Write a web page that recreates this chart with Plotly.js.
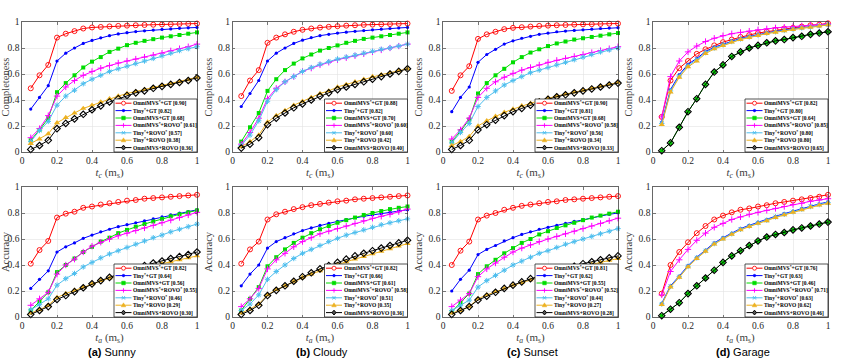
<!DOCTYPE html>
<html><head><meta charset="utf-8">
<script src="https://cdn.plot.ly/plotly-3.0.1.min.js"></script>
<style>html,body{margin:0;padding:0;background:#fff}#chart{width:841px;height:360px}</style>
</head><body><div id="chart"></div><script>
// ---------------- data ----------------
const tValues = [0.05,0.10,0.15,0.20,0.25,0.30,0.35,0.40,0.45,0.50,0.55,0.60,0.65,0.70,0.75,0.80,0.85,0.90,0.95,1.00];

const seriesNames = ['OmniMVS<sup>*</sup>+GT','Tiny<sup>*</sup>+GT','OmniMVS+GT','OmniMVS<sup>*</sup>+ROVO<sup>*</sup>','Tiny<sup>*</sup>+ROVO<sup>*</sup>','Tiny<sup>*</sup>+ROVO','OmniMVS+ROVO'];
const sceneLabels = ['(a)','(b)','(c)','(d)'];
const sceneNames = ['Sunny','Cloudy','Sunset','Garage'];
const rowYTitles = ['Completeness','Accuracy'];
const rowXTitles = ['<i>t</i><sub><i>c</i></sub> (m<sub>s</sub>)','<i>t</i><sub><i>a</i></sub> (m<sub>s</sub>)'];
const tickVals = [0,0.2,0.4,0.6,0.8,1];
const tickText = ['0','0.2','0.4','0.6','0.8','1'];

// Completeness
const compSunny = [
 [0.49,0.59,0.67,0.88,0.91,0.93,0.95,0.958,0.962,0.966,0.970,0.972,0.975,0.977,0.979,0.981,0.983,0.985,0.986,0.988],
 [0.33,0.42,0.51,0.70,0.76,0.80,0.835,0.858,0.878,0.895,0.908,0.918,0.926,0.932,0.938,0.943,0.947,0.951,0.955,0.958],
 [0.09,0.17,0.26,0.46,0.53,0.59,0.65,0.695,0.73,0.77,0.795,0.822,0.84,0.855,0.868,0.88,0.89,0.90,0.91,0.92],
 [0.11,0.18,0.28,0.43,0.50,0.55,0.59,0.62,0.645,0.665,0.685,0.70,0.715,0.73,0.745,0.76,0.778,0.795,0.81,0.83],
 [0.08,0.165,0.235,0.36,0.43,0.475,0.525,0.56,0.59,0.62,0.64,0.66,0.68,0.70,0.72,0.74,0.76,0.78,0.795,0.81],
 [0.065,0.10,0.14,0.225,0.265,0.30,0.335,0.36,0.385,0.41,0.43,0.45,0.465,0.48,0.495,0.51,0.525,0.54,0.555,0.575],
 [0.02,0.05,0.09,0.18,0.22,0.255,0.29,0.325,0.355,0.385,0.41,0.435,0.455,0.47,0.49,0.505,0.52,0.535,0.55,0.57]
];
const compSunnyScores = [0.90,0.82,0.68,0.61,0.57,0.38,0.36];

const compCloudy = [
 [0.43,0.55,0.63,0.84,0.88,0.905,0.925,0.94,0.95,0.957,0.963,0.968,0.972,0.975,0.978,0.98,0.982,0.984,0.986,0.988],
 [0.35,0.45,0.55,0.70,0.76,0.80,0.835,0.86,0.88,0.895,0.905,0.915,0.922,0.928,0.934,0.94,0.945,0.95,0.954,0.958],
 [0.08,0.19,0.30,0.47,0.56,0.63,0.68,0.72,0.75,0.78,0.80,0.82,0.84,0.855,0.87,0.88,0.89,0.90,0.91,0.92],
 [0.06,0.15,0.26,0.41,0.49,0.54,0.58,0.62,0.645,0.67,0.69,0.71,0.725,0.74,0.755,0.77,0.785,0.80,0.815,0.83],
 [0.05,0.13,0.24,0.39,0.48,0.54,0.58,0.62,0.65,0.675,0.695,0.715,0.73,0.745,0.76,0.775,0.79,0.80,0.815,0.83],
 [0.04,0.08,0.13,0.23,0.28,0.32,0.36,0.39,0.42,0.45,0.47,0.50,0.52,0.54,0.56,0.58,0.595,0.61,0.625,0.64],
 [0.03,0.06,0.11,0.21,0.26,0.30,0.34,0.37,0.40,0.43,0.455,0.48,0.50,0.52,0.54,0.56,0.58,0.60,0.62,0.64]
];
const compCloudyScores = [0.88,0.82,0.70,0.60,0.60,0.42,0.40];

const compSunset = [
 [0.47,0.59,0.66,0.87,0.905,0.925,0.945,0.955,0.96,0.965,0.97,0.972,0.975,0.977,0.98,0.982,0.983,0.985,0.987,0.988],
 [0.31,0.42,0.50,0.69,0.75,0.79,0.83,0.855,0.875,0.89,0.905,0.915,0.925,0.93,0.935,0.94,0.945,0.95,0.953,0.956],
 [0.08,0.16,0.25,0.45,0.53,0.59,0.64,0.69,0.73,0.765,0.79,0.815,0.835,0.85,0.865,0.875,0.885,0.895,0.905,0.915],
 [0.10,0.17,0.26,0.42,0.49,0.54,0.575,0.605,0.63,0.65,0.67,0.69,0.705,0.72,0.735,0.75,0.765,0.78,0.795,0.81],
 [0.07,0.15,0.22,0.35,0.42,0.47,0.515,0.55,0.58,0.61,0.63,0.65,0.67,0.69,0.71,0.73,0.75,0.77,0.785,0.80],
 [0.05,0.08,0.12,0.20,0.24,0.275,0.305,0.33,0.355,0.375,0.395,0.415,0.43,0.445,0.46,0.475,0.49,0.505,0.52,0.535],
 [0.02,0.05,0.09,0.17,0.21,0.245,0.28,0.31,0.335,0.36,0.385,0.405,0.425,0.44,0.455,0.47,0.485,0.50,0.515,0.53]
];
const compSunsetScores = [0.90,0.81,0.68,0.58,0.56,0.34,0.33];

const compGarage = [
 [0.27,0.55,0.645,0.70,0.755,0.79,0.82,0.845,0.865,0.885,0.90,0.915,0.925,0.94,0.95,0.955,0.965,0.975,0.98,0.99],
 [0.23,0.48,0.595,0.675,0.72,0.772,0.806,0.83,0.855,0.874,0.889,0.903,0.918,0.928,0.938,0.948,0.957,0.962,0.972,0.982],
 [0.01,0.07,0.19,0.31,0.41,0.52,0.615,0.67,0.735,0.77,0.80,0.82,0.84,0.855,0.865,0.88,0.89,0.905,0.915,0.925],
 [0.27,0.58,0.70,0.77,0.815,0.85,0.875,0.895,0.91,0.92,0.93,0.94,0.948,0.955,0.96,0.965,0.97,0.975,0.98,0.985],
 [0.22,0.47,0.585,0.665,0.71,0.765,0.80,0.825,0.85,0.87,0.885,0.90,0.915,0.925,0.935,0.945,0.955,0.96,0.97,0.98],
 [0.21,0.46,0.575,0.655,0.70,0.757,0.793,0.819,0.845,0.865,0.88,0.896,0.911,0.921,0.932,0.942,0.952,0.958,0.968,0.978],
 [0.01,0.07,0.19,0.31,0.41,0.52,0.615,0.67,0.735,0.77,0.80,0.82,0.84,0.855,0.865,0.88,0.89,0.905,0.915,0.925]
];
const compGarageScores = [0.82,0.80,0.64,0.85,0.80,0.80,0.65];

// Accuracy
const accSunny = [
 [0.41,0.515,0.585,0.765,0.795,0.81,0.84,0.85,0.865,0.875,0.885,0.895,0.90,0.91,0.915,0.92,0.925,0.93,0.935,0.94],
 [0.22,0.29,0.355,0.50,0.54,0.57,0.605,0.63,0.655,0.675,0.695,0.71,0.725,0.74,0.755,0.77,0.785,0.80,0.81,0.825],
 [0.05,0.12,0.19,0.345,0.40,0.45,0.50,0.54,0.58,0.61,0.645,0.67,0.695,0.715,0.735,0.755,0.775,0.79,0.805,0.82],
 [0.09,0.14,0.19,0.33,0.40,0.445,0.50,0.545,0.575,0.60,0.625,0.645,0.665,0.685,0.705,0.725,0.745,0.765,0.785,0.805],
 [0.055,0.095,0.14,0.245,0.295,0.335,0.385,0.42,0.455,0.485,0.51,0.535,0.56,0.585,0.61,0.63,0.655,0.675,0.695,0.715],
 [0.03,0.055,0.09,0.15,0.18,0.205,0.23,0.255,0.28,0.30,0.32,0.34,0.36,0.38,0.395,0.41,0.425,0.44,0.455,0.47],
 [0.02,0.05,0.08,0.135,0.165,0.195,0.225,0.255,0.28,0.305,0.33,0.355,0.375,0.395,0.415,0.43,0.45,0.465,0.48,0.50]
];
const accSunnyScores = [0.82,0.64,0.56,0.55,0.46,0.29,0.30];

const accCloudy = [
 [0.41,0.52,0.58,0.75,0.79,0.81,0.83,0.845,0.86,0.87,0.88,0.89,0.895,0.905,0.91,0.915,0.92,0.925,0.93,0.935],
 [0.24,0.33,0.40,0.53,0.58,0.61,0.64,0.665,0.685,0.705,0.72,0.735,0.75,0.765,0.775,0.785,0.795,0.805,0.815,0.825],
 [0.05,0.14,0.23,0.39,0.46,0.52,0.57,0.61,0.645,0.675,0.70,0.725,0.745,0.765,0.785,0.80,0.815,0.83,0.84,0.85],
 [0.08,0.14,0.22,0.37,0.44,0.49,0.54,0.58,0.61,0.64,0.66,0.68,0.70,0.72,0.74,0.76,0.775,0.79,0.81,0.83],
 [0.05,0.10,0.17,0.29,0.35,0.40,0.45,0.49,0.52,0.55,0.58,0.605,0.63,0.65,0.67,0.69,0.71,0.725,0.74,0.755],
 [0.03,0.06,0.10,0.17,0.21,0.24,0.275,0.305,0.33,0.355,0.38,0.405,0.425,0.445,0.465,0.485,0.505,0.525,0.545,0.565],
 [0.02,0.05,0.09,0.165,0.205,0.24,0.275,0.31,0.34,0.37,0.395,0.42,0.445,0.47,0.49,0.51,0.53,0.55,0.57,0.59]
];
const accCloudyScores = [0.82,0.66,0.61,0.58,0.51,0.35,0.36];

const accSunset = [
 [0.40,0.51,0.58,0.75,0.78,0.80,0.825,0.84,0.855,0.865,0.875,0.885,0.89,0.90,0.905,0.91,0.915,0.92,0.925,0.93],
 [0.20,0.29,0.36,0.48,0.52,0.55,0.585,0.61,0.635,0.655,0.675,0.69,0.705,0.72,0.735,0.75,0.765,0.78,0.79,0.80],
 [0.04,0.11,0.18,0.33,0.39,0.44,0.49,0.53,0.57,0.60,0.635,0.66,0.685,0.705,0.725,0.745,0.765,0.78,0.795,0.81],
 [0.08,0.13,0.18,0.31,0.37,0.415,0.46,0.50,0.53,0.555,0.58,0.60,0.62,0.64,0.66,0.68,0.70,0.72,0.74,0.76],
 [0.05,0.09,0.13,0.23,0.28,0.32,0.36,0.40,0.43,0.46,0.49,0.51,0.535,0.56,0.58,0.60,0.62,0.64,0.66,0.68],
 [0.03,0.05,0.08,0.14,0.17,0.195,0.22,0.245,0.265,0.285,0.305,0.325,0.345,0.36,0.375,0.39,0.405,0.42,0.435,0.45],
 [0.02,0.05,0.08,0.13,0.16,0.19,0.22,0.245,0.27,0.295,0.315,0.335,0.355,0.375,0.39,0.41,0.425,0.44,0.455,0.47]
];
const accSunsetScores = [0.81,0.62,0.55,0.52,0.44,0.27,0.28];

const accGarage = [
 [0.18,0.40,0.50,0.575,0.645,0.70,0.75,0.78,0.805,0.825,0.835,0.85,0.86,0.875,0.885,0.895,0.905,0.915,0.925,0.94],
 [0.105,0.24,0.315,0.395,0.46,0.515,0.57,0.61,0.645,0.68,0.705,0.73,0.75,0.775,0.795,0.815,0.835,0.855,0.87,0.885],
 [0.01,0.06,0.11,0.18,0.24,0.30,0.36,0.42,0.47,0.51,0.55,0.585,0.615,0.635,0.65,0.67,0.685,0.70,0.715,0.73],
 [0.17,0.35,0.44,0.52,0.59,0.645,0.69,0.72,0.75,0.77,0.79,0.805,0.82,0.835,0.85,0.865,0.875,0.89,0.90,0.91],
 [0.10,0.235,0.31,0.39,0.455,0.51,0.565,0.605,0.64,0.675,0.70,0.725,0.745,0.77,0.79,0.81,0.83,0.85,0.865,0.88],
 [0.095,0.23,0.305,0.385,0.45,0.505,0.56,0.60,0.635,0.67,0.695,0.72,0.74,0.765,0.785,0.805,0.825,0.845,0.86,0.875],
 [0.01,0.06,0.11,0.18,0.24,0.30,0.36,0.42,0.47,0.51,0.55,0.585,0.615,0.635,0.65,0.67,0.685,0.70,0.715,0.73]
];
const accGarageScores = [0.76,0.63,0.46,0.71,0.63,0.62,0.46];

// ---------------- styles ----------------
const W = 841, H = 360;
const colLeft = [22, 232.5, 443, 653];
const plotW = 175;
const rowTop = [22, 187];
const plotH = 130;
const serif = 'Liberation Serif, Times New Roman, serif';
const ink = '#262626';

const styles = [
 {color:'#ff0000', marker:{symbol:'circle-open', size:5, color:'#ff0000', line:{width:0.9, color:'#ff0000'}}, leg:'circle'},
 {color:'#0000ff', marker:{symbol:'circle', size:3.2, color:'#0000ff'}, leg:'dot'},
 {color:'#00dd00', marker:{symbol:'square', size:4, color:'#00dd00'}, leg:'square'},
 {color:'#ff00ff', marker:{symbol:'cross-thin-open', size:4.5, color:'#ff00ff', line:{width:1, color:'#ff00ff'}}, leg:'cross'},
 {color:'#4dbeee', marker:{symbol:'asterisk-open', size:4.5, color:'#4dbeee', line:{width:1, color:'#4dbeee'}}, leg:'asterisk'},
 {color:'#edb120', marker:{symbol:'triangle-up', size:5.5, color:'#edb120'}, leg:'triangle'},
 {color:'#000000', marker:{symbol:'diamond-open', size:5, color:'#000000', line:{width:1.1, color:'#000000'}}, leg:'diamond'}
];

const panels = [
 {data:compSunny, scores:compSunnyScores, r:0, c:0},
 {data:compCloudy, scores:compCloudyScores, r:0, c:1},
 {data:compSunset, scores:compSunsetScores, r:0, c:2},
 {data:compGarage, scores:compGarageScores, r:0, c:3},
 {data:accSunny, scores:accSunnyScores, r:1, c:0},
 {data:accCloudy, scores:accCloudyScores, r:1, c:1},
 {data:accSunset, scores:accSunsetScores, r:1, c:2},
 {data:accGarage, scores:accGarageScores, r:1, c:3}
];

const X = p => p / W;
const Y = p => 1 - p / H;
const P = (x, y) => X(x).toFixed(5) + ',' + Y(y).toFixed(5);

const traces = [];
const layout = {
 width: W, height: H,
 margin: {l:0, r:0, t:0, b:0},
 paper_bgcolor: '#ffffff', plot_bgcolor: '#ffffff',
 showlegend: false,
 shapes: [], annotations: []
};

function legendMarker(kind, cx, cy, color) {
 const s = [];
 const base = {xref:'paper', yref:'paper', layer:'above'};
 if (kind === 'circle') {
  s.push(Object.assign({type:'circle', x0:X(cx-2), x1:X(cx+2), y0:Y(cy+2), y1:Y(cy-2), line:{color:color, width:0.8}, fillcolor:'#ffffff'}, base));
 } else if (kind === 'dot') {
  s.push(Object.assign({type:'circle', x0:X(cx-1.3), x1:X(cx+1.3), y0:Y(cy+1.3), y1:Y(cy-1.3), line:{color:color, width:0.5}, fillcolor:color}, base));
 } else if (kind === 'square') {
  s.push(Object.assign({type:'rect', x0:X(cx-1.8), x1:X(cx+1.8), y0:Y(cy+1.8), y1:Y(cy-1.8), line:{color:color, width:0.5}, fillcolor:color}, base));
 } else if (kind === 'cross') {
  s.push(Object.assign({type:'path', path:'M'+P(cx-2.2,cy)+'L'+P(cx+2.2,cy)+'M'+P(cx,cy-2.2)+'L'+P(cx,cy+2.2), line:{color:color, width:0.9}}, base));
 } else if (kind === 'asterisk') {
  s.push(Object.assign({type:'path', path:'M'+P(cx-2.2,cy)+'L'+P(cx+2.2,cy)+'M'+P(cx-1.5,cy-1.8)+'L'+P(cx+1.5,cy+1.8)+'M'+P(cx-1.5,cy+1.8)+'L'+P(cx+1.5,cy-1.8), line:{color:color, width:0.8}}, base));
 } else if (kind === 'triangle') {
  s.push(Object.assign({type:'path', path:'M'+P(cx,cy-2.4)+'L'+P(cx+2.3,cy+1.6)+'L'+P(cx-2.3,cy+1.6)+'Z', line:{color:color, width:0.5}, fillcolor:color}, base));
 } else if (kind === 'diamond') {
  s.push(Object.assign({type:'path', path:'M'+P(cx,cy-2.4)+'L'+P(cx+2,cy)+'L'+P(cx,cy+2.4)+'L'+P(cx-2,cy)+'Z', line:{color:color, width:1}, fillcolor:'#555555'}, base));
 }
 return s;
}

panels.forEach((pn, idx) => {
 const k = idx + 1;
 const xa = 'xaxis' + (k === 1 ? '' : k);
 const ya = 'yaxis' + (k === 1 ? '' : k);
 const xr = 'x' + (k === 1 ? '' : k);
 const yr = 'y' + (k === 1 ? '' : k);
 const left = colLeft[pn.c], top = rowTop[pn.r];
 const right = left + plotW, bottom = top + plotH;

 const axisCommon = {
  range: [0, 1], tickmode: 'array', tickvals: tickVals, ticktext: tickText,
  showgrid: true, gridcolor: '#e2e2e2', gridwidth: 0.6,
  showline: true, mirror: 'ticks', linecolor: ink, linewidth: 0.7,
  ticks: 'inside', ticklen: 2.5, tickwidth: 0.6, tickcolor: ink,
  tickfont: {family: serif, size: 9.5, color: ink},
  zeroline: false, fixedrange: true
 };
 layout[xa] = Object.assign({}, axisCommon, {
  domain: [X(left), X(right)], anchor: yr,
  title: {text: rowXTitles[pn.r], font: {family: serif, size: 11, color: '#404040'}, standoff: 2}
 });
 layout[ya] = Object.assign({}, axisCommon, {
  domain: [Y(bottom), Y(top)], anchor: xr,
  title: {text: rowYTitles[pn.r], font: {family: serif, size: 10.5, color: '#404040'}, standoff: 3}
 });

 pn.data.forEach((vals, j) => {
  traces.push({
   type: 'scatter', mode: 'lines+markers', x: tValues, y: vals,
   xaxis: xr, yaxis: yr, cliponaxis: false, hoverinfo: 'skip',
   line: {color: styles[j].color, width: 1},
   marker: styles[j].marker, name: seriesNames[j]
  });
 });

 // custom compact legend
 const bw = 83, bh = 53;
 const bl = right - bw, bt = bottom - bh;
 layout.shapes.push({type:'rect', xref:'paper', yref:'paper', x0:X(bl), x1:X(right), y0:Y(bottom), y1:Y(bt),
  line:{color:ink, width:0.8}, fillcolor:'#ffffff', layer:'above'});
 seriesNames.forEach((nm, j) => {
  const cy = bt + 4.2 + j * 7.4;
  layout.shapes.push({type:'line', xref:'paper', yref:'paper', x0:X(bl+1.5), x1:X(bl+17.5), y0:Y(cy), y1:Y(cy),
   line:{color:styles[j].color, width:1}, layer:'above'});
  legendMarker(styles[j].leg, bl + 9.5, cy, styles[j].color).forEach(s => layout.shapes.push(s));
  layout.annotations.push({xref:'paper', yref:'paper', x:X(bl+18), y:Y(cy), xanchor:'left', yanchor:'middle',
   showarrow:false, borderpad:0,
   text:'<b>' + nm + ' [' + pn.scores[j].toFixed(2) + ']</b>',
   font:{family: serif, size: 5.5, color:'#000000'}});
 });

 if (pn.r === 1) {
  layout.annotations.push({xref:'paper', yref:'paper', x:X(left + plotW/2 + 2), y:Y(352), xanchor:'center', yanchor:'middle',
   showarrow:false, text:'<b>' + sceneLabels[pn.c] + '</b> ' + sceneNames[pn.c],
   font:{family:'Liberation Sans, Arial, sans-serif', size:11, color:'#000000'}});
 }
});

Plotly.newPlot('chart', traces, layout, {displayModeBar:false, staticPlot:true});
</script></body></html>
